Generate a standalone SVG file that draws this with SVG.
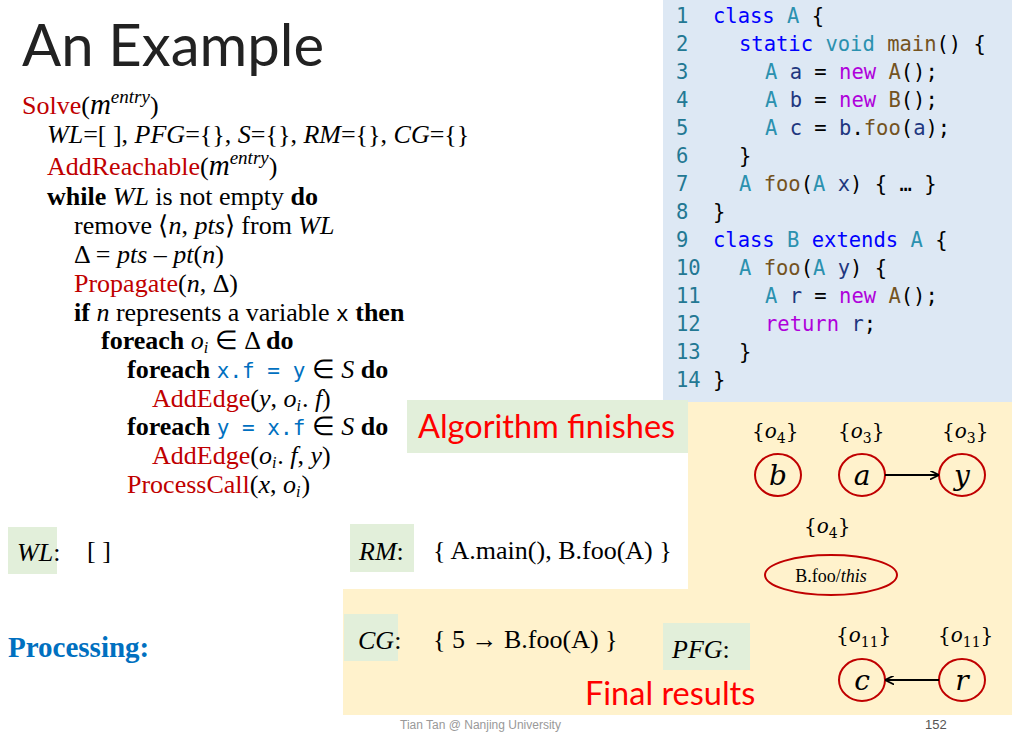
<svg xmlns="http://www.w3.org/2000/svg" width="1025" height="732" viewBox="0 0 1025 732">
<defs>
<style>
.title{font-family:Lato,"Open Sans",sans-serif;font-size:58px;fill:#222}
.code{font-family:"DejaVu Sans Mono","Liberation Mono",monospace;font-size:20.5px;fill:#000;white-space:pre}
.ln{fill:#237893}
.kw{fill:#0000ff}
.ty{fill:#2b91af}
.fn{fill:#74531f}
.nw{fill:#af00db}
.vr{fill:#1f377f}
.alg{font-family:"Liberation Serif","Times New Roman",serif;font-size:26px;fill:#000}
.red{fill:#c00000}
.b{font-weight:bold}
.i{font-style:italic}
.mono{font-family:"DejaVu Sans Mono",monospace;font-size:21px;fill:#0070c0}
.lbl{fill:#e2efda}
.big{font-family:Lato,"Open Sans",sans-serif;font-size:32.5px;fill:#ff0000}
.pts{font-family:"DejaVu Serif","Liberation Serif",serif;font-size:20px;fill:#000}
.node{fill:none;stroke:#c00000;stroke-width:2}
.nl{font-family:"DejaVu Serif","Liberation Serif",serif;font-style:italic;font-size:28px;fill:#000}
.edge{stroke:#000;stroke-width:2;fill:none}
</style>
<marker id="ah" viewBox="0 0 10 10" refX="9" refY="5" markerWidth="9" markerHeight="9" markerUnits="userSpaceOnUse" orient="auto">
<path d="M0,0 L10,5 L0,10" fill="none" stroke="#000" stroke-width="2"/>
</marker>
</defs>
<rect width="1025" height="732" fill="#fff"/>
<rect x="663" y="0" width="349" height="402" fill="#dde8f4"/>
<path d="M688,402 H1012 V715 H343 V589 H688 Z" fill="#fff2cc"/>
<g id="title"><text class="title" x="22" y="66">An Example</text></g>

<g id="code">
<text class="code" y="23"><tspan class="ln" x="676">1</tspan><tspan x="713"><tspan class="kw">class</tspan> <tspan class="ty">A</tspan> {</tspan></text>
<text class="code" y="51"><tspan class="ln" x="676">2</tspan><tspan x="739"><tspan class="kw">static</tspan> <tspan class="ty">void</tspan> <tspan class="fn">main</tspan>() {</tspan></text>
<text class="code" y="79"><tspan class="ln" x="676">3</tspan><tspan x="765"><tspan class="ty">A</tspan> <tspan class="vr">a</tspan> = <tspan class="nw">new</tspan> <tspan class="fn">A</tspan>();</tspan></text>
<text class="code" y="107"><tspan class="ln" x="676">4</tspan><tspan x="765"><tspan class="ty">A</tspan> <tspan class="vr">b</tspan> = <tspan class="nw">new</tspan> <tspan class="fn">B</tspan>();</tspan></text>
<text class="code" y="135"><tspan class="ln" x="676">5</tspan><tspan x="765"><tspan class="ty">A</tspan> <tspan class="vr">c</tspan> = <tspan class="vr">b</tspan>.<tspan class="fn">foo</tspan>(<tspan class="vr">a</tspan>);</tspan></text>
<text class="code" y="163"><tspan class="ln" x="676">6</tspan><tspan x="739">}</tspan></text>
<text class="code" y="191"><tspan class="ln" x="676">7</tspan><tspan x="739"><tspan class="ty">A</tspan> <tspan class="fn">foo</tspan>(<tspan class="ty">A</tspan> <tspan class="vr">x</tspan>) { … }</tspan></text>
<text class="code" y="219"><tspan class="ln" x="676">8</tspan><tspan x="713">}</tspan></text>
<text class="code" y="247"><tspan class="ln" x="676">9</tspan><tspan x="713"><tspan class="kw">class</tspan> <tspan class="ty">B</tspan> <tspan class="kw">extends</tspan> <tspan class="ty">A</tspan> {</tspan></text>
<text class="code" y="275"><tspan class="ln" x="676">10</tspan><tspan x="739"><tspan class="ty">A</tspan> <tspan class="fn">foo</tspan>(<tspan class="ty">A</tspan> <tspan class="vr">y</tspan>) {</tspan></text>
<text class="code" y="303"><tspan class="ln" x="676">11</tspan><tspan x="765"><tspan class="ty">A</tspan> <tspan class="vr">r</tspan> = <tspan class="nw">new</tspan> <tspan class="fn">A</tspan>();</tspan></text>
<text class="code" y="331"><tspan class="ln" x="676">12</tspan><tspan x="765"><tspan class="nw">return</tspan> <tspan class="vr">r</tspan>;</tspan></text>
<text class="code" y="359"><tspan class="ln" x="676">13</tspan><tspan x="739">}</tspan></text>
<text class="code" y="387"><tspan class="ln" x="676">14</tspan><tspan x="713">}</tspan></text>
</g>

<g id="algorithm">
<text class="alg" x="22" y="114"><tspan class="red">Solve</tspan>(<tspan class="i" font-size="29">m</tspan><tspan class="i" font-size="19" dy="-11">entry</tspan><tspan dy="11">)</tspan></text>
<text class="alg" x="47" y="143"><tspan class="i">WL</tspan>=[ ], <tspan class="i">PFG</tspan>={}, <tspan class="i">S</tspan>={}, <tspan class="i">RM</tspan>={}, <tspan class="i">CG</tspan>={}</text>
<text class="alg" x="47" y="175"><tspan class="red">AddReachable</tspan>(<tspan class="i" font-size="29">m</tspan><tspan class="i" font-size="19" dy="-11">entry</tspan><tspan dy="11">)</tspan></text>
<text class="alg" x="47" y="205"><tspan class="b">while</tspan> <tspan class="i">WL</tspan> is not empty <tspan class="b">do</tspan></text>
<text class="alg" x="74" y="234">remove ⟨<tspan class="i">n</tspan>, <tspan class="i">pts</tspan>⟩ from <tspan class="i">WL</tspan></text>
<text class="alg" x="74" y="263">Δ = <tspan class="i">pts</tspan> – <tspan class="i">pt</tspan>(<tspan class="i">n</tspan>)</text>
<text class="alg" x="74" y="292"><tspan class="red">Propagate</tspan>(<tspan class="i">n</tspan>, Δ)</text>
<text class="alg" x="74" y="321"><tspan class="b">if</tspan> <tspan class="i">n</tspan> represents a variable <tspan font-family="DejaVu Sans Mono,monospace" font-size="21">x</tspan> <tspan class="b">then</tspan></text>
<text class="alg" x="101" y="349"><tspan class="b">foreach</tspan> <tspan class="i">o</tspan><tspan class="i" font-size="16" dy="4">i</tspan><tspan dy="-4"> ∈ Δ </tspan><tspan class="b">do</tspan></text>
<text class="alg" x="127" y="378"><tspan class="b">foreach</tspan> <tspan class="mono">x.f = y</tspan> ∈ <tspan class="i">S</tspan> <tspan class="b">do</tspan></text>
<text class="alg" x="152" y="407"><tspan class="red">AddEdge</tspan>(<tspan class="i">y</tspan>, <tspan class="i">o</tspan><tspan class="i" font-size="16" dy="4">i</tspan><tspan dx="1" dy="-4">. </tspan><tspan class="i">f</tspan>)</text>
<text class="alg" x="127" y="435"><tspan class="b">foreach</tspan> <tspan class="mono">y = x.f</tspan> ∈ <tspan class="i">S</tspan> <tspan class="b">do</tspan></text>
<text class="alg" x="152" y="464"><tspan class="red">AddEdge</tspan>(<tspan class="i">o</tspan><tspan class="i" font-size="16" dy="4">i</tspan><tspan dx="1" dy="-4">. </tspan><tspan class="i">f</tspan>, <tspan class="i">y</tspan>)</text>
<text class="alg" x="127" y="493"><tspan class="red">ProcessCall</tspan>(<tspan class="i">x</tspan>, <tspan class="i">o</tspan><tspan class="i" font-size="16" dy="4">i</tspan><tspan dx="1" dy="-4">)</tspan></text>
</g>

<g id="algorithm-finishes">
<rect class="lbl" x="407" y="400" width="281" height="53"/>
<text class="big" x="418" y="438">Algorithm finishes</text>
</g>

<g id="wl">
<rect class="lbl" x="8" y="527" width="49" height="47"/>
<text class="alg" x="17" y="561" font-size="28"><tspan class="i">WL</tspan>:</text>
<text class="alg" x="87" y="559" font-size="27">[ ]</text>
</g>
<g id="rm">
<rect class="lbl" x="350" y="524" width="64" height="48"/>
<text class="alg" x="359" y="560" font-size="29"><tspan class="i">RM</tspan>:</text>
<text class="alg" x="433" y="559" font-size="27">{ A.main(), B.foo(A) }</text>
</g>
<g id="processing">
<text x="8" y="657" font-family="Liberation Serif,serif" font-weight="bold" font-size="29" fill="#0070c0">Processing:</text>
</g>
<g id="cg">
<rect class="lbl" x="344" y="614" width="54" height="47"/>
<text class="alg" x="358" y="649" font-size="32"><tspan class="i">CG</tspan>:</text>
<text class="alg" x="433" y="648" font-size="27">{ 5 → B.foo(A) }</text>
</g>
<g id="pfg">
<rect class="lbl" x="663" y="623" width="87" height="47"/>
<text class="alg" x="672" y="658" font-size="32"><tspan class="i">PFG</tspan>:</text>
</g>
<g id="final-results"><text class="big" x="585" y="705">Final results</text></g>

<g id="node-b">
<text class="pts" x="752" y="438">{<tspan font-style="italic">o</tspan><tspan font-size="14" dy="5">4</tspan><tspan dy="-5">}</tspan></text>
<ellipse class="node" cx="778" cy="475" rx="23" ry="21"/>
<text class="nl" x="778" y="485" text-anchor="middle">b</text>
</g>
<g id="node-a">
<text class="pts" x="838" y="438">{<tspan font-style="italic">o</tspan><tspan font-size="14" dy="5">3</tspan><tspan dy="-5">}</tspan></text>
<ellipse class="node" cx="862" cy="475" rx="23" ry="21"/>
<text class="nl" x="862" y="485" text-anchor="middle">a</text>
</g>
<g id="node-y">
<text class="pts" x="942" y="438">{<tspan font-style="italic">o</tspan><tspan font-size="14" dy="5">3</tspan><tspan dy="-5">}</tspan></text>
<ellipse class="node" cx="962" cy="475" rx="23" ry="21"/>
<text class="nl" x="962" y="485" text-anchor="middle">y</text>
</g>
<g id="node-this">
<text class="pts" x="804" y="533">{<tspan font-style="italic">o</tspan><tspan font-size="14" dy="5">4</tspan><tspan dy="-5">}</tspan></text>
<ellipse class="node" cx="831" cy="575" rx="66" ry="20"/>
<text x="831" y="582" text-anchor="middle" font-family="Liberation Serif,serif" font-size="18">B.foo/<tspan font-style="italic">this</tspan></text>
</g>
<g id="node-c">
<text class="pts" x="836" y="642">{<tspan font-style="italic">o</tspan><tspan font-size="14" dy="5">11</tspan><tspan dy="-5">}</tspan></text>
<ellipse class="node" cx="862" cy="680" rx="23" ry="21"/>
<text class="nl" x="862" y="690" text-anchor="middle">c</text>
</g>
<g id="node-r">
<text class="pts" x="938" y="642">{<tspan font-style="italic">o</tspan><tspan font-size="14" dy="5">11</tspan><tspan dy="-5">}</tspan></text>
<ellipse class="node" cx="962" cy="680" rx="23" ry="21"/>
<text class="nl" x="962" y="690" text-anchor="middle">r</text>
</g>

<g id="connectors">
<line class="edge" x1="885" y1="475" x2="938" y2="475" marker-end="url(#ah)"/>
<line class="edge" x1="939" y1="680" x2="886" y2="680" marker-end="url(#ah)"/>
</g>

<g id="footer">
<text x="400" y="729" font-family="Liberation Sans,sans-serif" font-size="12" fill="#999">Tian Tan @ Nanjing University</text>
<text x="925" y="729" font-family="Liberation Sans,sans-serif" font-size="13" fill="#555">152</text>
</g>
</svg>
